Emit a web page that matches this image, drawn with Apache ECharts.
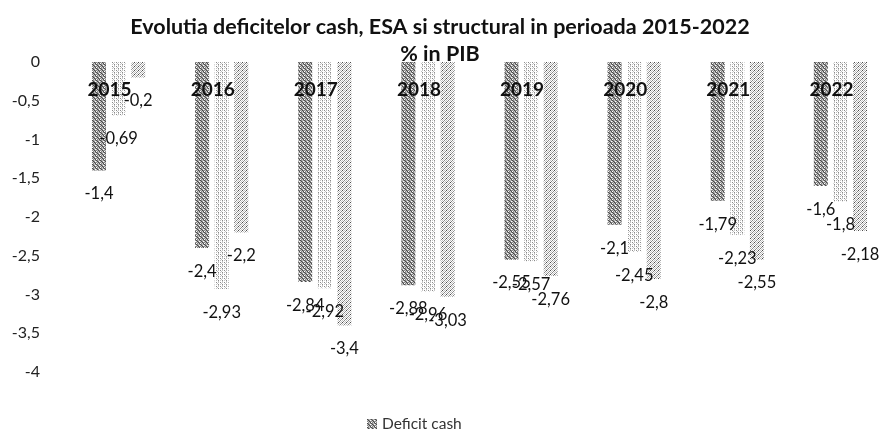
<!DOCTYPE html>
<html>
<head>
    <meta charset="utf-8">
    <title>Deficite</title>
    <script src="https://cdn.jsdelivr.net/npm/echarts@6.0.0/dist/echarts.min.js"></script>
    <style>
        html, body { margin: 0; padding: 0; background: #fff; }
        #chart { width: 880px; height: 430px; }
    </style>
</head>
<body>
<div id="chart"></div>
<script>
    // date (% din PIB)
    const years = ['2015', '2016', '2017', '2018', '2019', '2020', '2021', '2022'];
    const deficitCash = [-1.4, -2.4, -2.84, -2.88, -2.55, -2.1, -1.79, -1.6];
    const deficitEsa = [-0.69, -2.93, -2.92, -2.96, -2.57, -2.45, -2.23, -1.8];
    const deficitStructural = [-0.2, -2.2, -3.4, -3.03, -2.76, -2.8, -2.55, -2.18];
    const yTicks = { min: -4, max: 0, step: 0.5 };

    const font = 'Lato, "Open Sans", sans-serif';
    const comma = v => String(v).replace('.', ',');

    // textura granulata ca in Excel
    const makePattern = (rows, colors) => {
        const c = document.createElement('canvas');
        c.width = rows[0].length;
        c.height = rows.length;
        const ctx = c.getContext('2d');
        rows.forEach((row, y) => {
            [...row].forEach((ch, x) => {
                ctx.fillStyle = colors[ch];
                ctx.fillRect(x, y, 1, 1);
            });
        });
        return { image: c, repeat: 'repeat' };
    };
    const palette = { '#': '#4a4a4a', '+': '#8a8a8a', 'o': '#c2c2c2', '.': '#ffffff' };
    const patCash = makePattern(['#+o+', 'o#+.', '+o#+', '.+o#'], palette);
    const patEsa = makePattern(['o.+.', '..o.', '+.o.', '.o..'], palette);
    const patStruct = makePattern(['+.o.', '.o.+', 'o.#.', '.+.o'], palette);

    const label = {
        show: true,
        position: 'bottom',
        distance: 15,
        formatter: p => comma(p.value),
        fontFamily: font,
        fontSize: 16.5,
        color: '#111'
    };

    const chart = echarts.init(document.getElementById('chart'));
    chart.setOption({
        animation: false,
        title: {
            text: 'Evolutia deficitelor cash, ESA si structural in perioada 2015-2022\n% in PIB',
            left: 'center',
            top: 14,
            padding: [0, 0, 0, 16],
            textStyle: {
                fontFamily: font,
                fontSize: 21.5,
                fontWeight: 'bold',
                color: '#111',
                lineHeight: 27
            }
        },
        legend: {
            data: ['Deficit cash'],
            left: 362,
            top: 411,
            icon: 'rect',
            itemWidth: 10,
            itemHeight: 10,
            textStyle: { fontFamily: font, fontSize: 15.5, color: '#333' }
        },
        grid: { left: 67, right: -12, top: 62, bottom: 58, containLabel: false, outerBoundsMode: 'none' },
        xAxis: {
            type: 'category',
            data: years,
            position: 'top',
            z: 10,
            axisLine: { show: false },
            axisTick: { show: false },
            axisLabel: {
                inside: true,
                margin: 18,
                padding: [0, 18, 0, 0],
                fontFamily: font,
                fontSize: 19,
                fontWeight: 'bold',
                color: '#111'
            }
        },
        yAxis: {
            type: 'value',
            min: yTicks.min,
            max: yTicks.max,
            interval: yTicks.step,
            axisLine: { show: false },
            axisTick: { show: false },
            splitLine: { show: false },
            axisLabel: {
                margin: 27,
                formatter: comma,
                fontFamily: font,
                fontSize: 16,
                color: '#222'
            }
        },
        series: [
            { name: 'Deficit cash', type: 'bar', data: deficitCash, barWidth: 14, barGap: '40%', itemStyle: { color: patCash }, label },
            { name: 'Deficit ESA', type: 'bar', data: deficitEsa, barWidth: 14, barGap: '40%', itemStyle: { color: patEsa }, label },
            { name: 'Deficit structural', type: 'bar', data: deficitStructural, barWidth: 14, barGap: '40%', itemStyle: { color: patStruct }, label }
        ]
    });
</script>
</body>
</html>
